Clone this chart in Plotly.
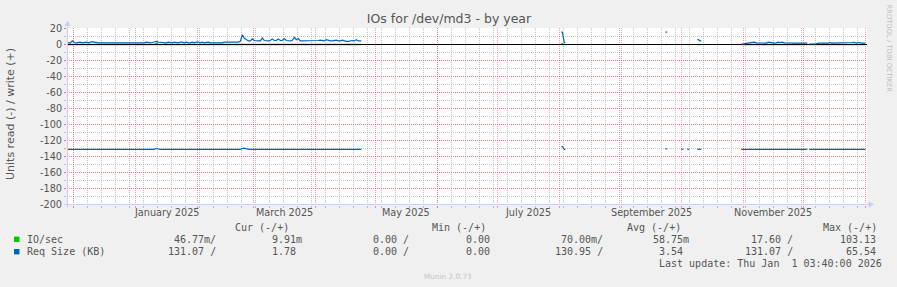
import plotly.graph_objects as go
import pandas as pd

# ---------------- data ----------------
title = "IOs for /dev/md3 - by year"
y_title = "Units read (-) / write (+)"
y_ticks = [20, 0, -20, -40, -60, -80, -100, -120, -140, -160, -180, -200]
month_lines = ["2024-12-01", "2025-01-01", "2025-02-01", "2025-03-01", "2025-04-01",
               "2025-05-01", "2025-06-01", "2025-07-01", "2025-08-01", "2025-09-01",
               "2025-10-01", "2025-11-01", "2025-12-01", "2026-01-01"]
label_months = ["2025-01-01", "2025-03-01", "2025-05-01", "2025-07-01", "2025-09-01", "2025-11-01"]
month_labels = ["January 2025", "March 2025", "May 2025", "July 2025", "September 2025", "November 2025"]

# start day of each contiguous run of daily samples
seg_start = ["2024-11-28", "2025-08-02", "2025-09-23", "2025-10-01", "2025-10-04",
             "2025-10-09", "2025-10-31", "2025-12-04"]

# Req Size (KB), write (plotted +)
req_write = [
    [2, 2, 4.5, 2.5, 2, 3, 3, 2, 3, 3,
     2, 3, 3.5, 3, 2, 2, 2, 2, 2, 2,
     2, 2, 2, 2, 2, 2, 2, 2, 2, 2,
     2, 2, 2, 2, 2, 2, 2, 2, 2, 3,
     2, 2, 2.5, 3, 4, 3, 3, 2.5, 2, 2,
     3, 2, 2, 3, 2, 2, 3, 3, 2, 3,
     2, 2, 3, 2, 3, 3, 2, 3, 2, 3,
     3, 2, 2, 2, 2, 2, 2, 2, 3, 3,
     3, 3, 3, 3, 3, 3, 4, 12,
     8, 6, 4.5, 4.5, 7, 5, 4.5, 4.5, 4.5, 8,
     5, 4.5, 4.5, 5, 7, 5, 5, 7, 5, 5,
     7.5, 5, 4.5, 4.5, 5, 9, 6, 7.5, 4.5, 4.5,
     4.5, 4.5, 4.5, 4.5, 4.5, 4.5, 4.5, 5, 5.5, 4.5,
     4.5, 6, 5, 4.5, 4.5, 5, 5.5, 4.5, 4.5, 5.5,
     4.5, 4, 4, 4.5, 5, 4.5, 6, 4.5, 4.5],
    [15.5, 2.5],
    [15.5],
    [None],
    [None],
    [6, 4.5],
    [0.3, 0.8, 1.3, 1.8, 1.8, 2.5, 3, 2, 1.8, 1.8,
     1.8, 2, 1.8, 3, 2.5, 1.8, 1.8, 2, 3, 2.5,
     3, 2, 1.8, 1.8, 1.8, 1.8, 1.8, 1.8, 1.8, 1.8,
     1.8, 1.8, 1.8],
    [0.6, 0.6, 0.6, 0.8, 1.6, 1.8, 1.8, 2.5, 1.8, 1.8,
     2.5, 1.8, 1.8, 2.5, 2.5, 1.8, 1.8, 2.2, 2.5, 1.8,
     1.8, 2.5, 2.8, 1.8, 2.5, 1.8, 1.8, 1.8],
]

# Req Size (KB), read (plotted -)
req_read = [
    [131, 131, 131, 131, 131, 131, 131, 131, 131, 131,
     131, 131, 131, 131, 131, 131, 131, 131, 131, 131,
     131, 131, 131, 131, 131, 131, 131, 131, 131, 131,
     131, 131, 131, 131, 131, 131, 131, 131, 131, 131,
     131, 131, 131, 131, 130, 131, 131, 131, 131, 131,
     131, 131, 131, 131, 131, 131, 131, 131, 131, 131,
     131, 131, 131, 131, 131, 131, 131, 131, 131, 131,
     131, 131, 131, 131, 131, 131, 131, 131, 131, 131,
     131, 131, 131, 131, 131, 131, 131, 130,
     129.5, 130.5, 131, 131, 131, 131, 131, 131, 131, 131,
     131, 131, 131, 131, 131, 131, 131, 131, 131, 131,
     131, 131, 131, 131, 131, 131, 131, 131, 131, 131,
     131, 131, 131, 131, 131, 131, 131, 131, 131, 131,
     131, 131, 131, 131, 131, 131, 131, 131, 131, 131,
     131, 131, 131, 131, 131, 131, 131, 131, 131],
    [127.5, 131],
    [130.5],
    [131],
    [131],
    [131, 131],
    [131, 131, 131, 131, 131, 131, 131, 131, 131, 131,
     131, 131, 131, 131, 131, 131, 131, 131, 131, 131,
     131, 131, 131, 131, 131, 131, 131, 131, 131, 131,
     131, 131, 131],
    [131, 131, 131, 131, 131, 131, 131, 131, 131, 131,
     131, 131, 131, 131, 131, 131, 131, 131, 131, 131,
     131, 131, 131, 131, 131, 131, 131, 131],
]

# IO/sec, write (plotted +)
io_write = [
    [0.06, 0.06, 0.06, 0.06, 0.06, 0.06, 0.06, 0.06, 0.06, 0.06,
     0.06, 0.06, 0.06, 0.06, 0.06, 0.06, 0.06, 0.06, 0.06, 0.06,
     0.06, 0.06, 0.06, 0.06, 0.06, 0.06, 0.06, 0.06, 0.06, 0.06,
     0.06, 0.06, 0.06, 0.06, 0.06, 0.06, 0.06, 0.06, 0.06, 0.06,
     0.06, 0.06, 0.06, 0.06, 1.8, 0.06, 0.06, 0.06, 0.06, 0.06,
     0.06, 0.06, 0.06, 0.06, 0.06, 0.06, 0.06, 0.06, 0.06, 0.06,
     0.06, 0.06, 0.06, 0.06, 0.06, 0.06, 0.06, 0.06, 0.06, 0.06,
     0.06, 0.06, 0.06, 0.06, 0.06, 0.06, 0.06, 0.06, 0.06, 0.06,
     0.06, 0.06, 0.06, 0.06, 0.06, 0.06, 0.06, 0.06,
     0.06, 0.06, 0.06, 0.06, 0.06, 0.06, 0.06, 0.06, 0.06, 0.06,
     0.06, 0.06, 0.06, 0.06, 0.06, 0.06, 0.06, 0.06, 0.06, 0.06,
     0.06, 0.06, 0.06, 0.06, 0.06, 0.06, 0.06, 0.06, 0.06, 0.06,
     0.06, 0.06, 0.06, 0.06, 0.06, 0.06, 0.06, 0.06, 0.06, 0.06,
     0.06, 0.06, 0.06, 0.06, 0.06, 0.06, 0.06, 0.06, 0.06, 0.06,
     0.06, 0.06, 0.06, 0.06, 0.06, 0.06, 0.06, 0.06, 0.06],
    [1.2, 0.06],
    [0.06],
    [None],
    [None],
    [0.06, 0.06],
    [0.06, 0.06, 0.06, 0.06, 0.06, 0.06, 0.06, 0.06, 0.06, 0.06,
     0.06, 0.06, 0.06, 0.06, 0.06, 0.06, 0.06, 0.06, 0.06, 0.06,
     0.06, 0.06, 0.06, 0.06, 0.06, 0.06, 0.06, 0.06, 0.06, 0.06,
     0.06, 0.06, 0.06],
    [0.06, 0.06, 0.06, 0.06, 0.06, 0.06, 0.06, 0.06, 0.06, 0.06,
     0.06, 0.06, 0.06, 0.06, 0.06, 0.06, 0.06, 0.06, 0.06, 0.06,
     0.06, 0.06, 0.06, 0.06, 0.06, 0.06, 0.06, 0.06],
]

# IO/sec, read (plotted -)
io_read = [
    [0.07, 0.07, 0.07, 0.07, 0.07, 0.07, 0.07, 0.07, 0.07, 0.07,
     0.07, 0.07, 0.07, 0.07, 0.07, 0.07, 0.07, 0.07, 0.07, 0.07,
     0.07, 0.07, 0.07, 0.07, 0.07, 0.07, 0.07, 0.07, 0.07, 0.07,
     0.07, 0.07, 0.07, 0.07, 0.07, 0.07, 0.07, 0.07, 0.07, 0.07,
     0.07, 0.07, 0.07, 0.07, 0.07, 0.07, 0.07, 0.07, 0.07, 0.07,
     0.07, 0.07, 0.07, 0.07, 0.07, 0.07, 0.07, 0.07, 0.07, 0.07,
     0.07, 0.07, 0.07, 0.07, 0.07, 0.07, 0.07, 0.07, 0.07, 0.07,
     0.07, 0.07, 0.07, 0.07, 0.07, 0.07, 0.07, 0.07, 0.07, 0.07,
     0.07, 0.07, 0.07, 0.07, 0.07, 0.07, 0.07, 0.07,
     0.07, 0.07, 0.07, 0.07, 0.07, 0.07, 0.07, 0.07, 0.07, 0.07,
     0.07, 0.07, 0.07, 0.07, 0.07, 0.07, 0.07, 0.07, 0.07, 0.07,
     0.07, 0.07, 0.07, 0.07, 0.07, 0.07, 0.07, 0.07, 0.07, 0.07,
     0.07, 0.07, 0.07, 0.07, 0.07, 0.07, 0.07, 0.07, 0.07, 0.07,
     0.07, 0.07, 0.07, 0.07, 0.07, 0.07, 0.07, 0.07, 0.07, 0.07,
     0.07, 0.07, 0.07, 0.07, 0.07, 0.07, 0.07, 0.07, 0.07],
    [0.07, 0.07],
    [0.07],
    [0.07],
    [0.07],
    [0.07, 0.07],
    [0.07, 0.07, 0.07, 0.07, 0.07, 0.07, 0.07, 0.07, 0.07, 0.07,
     0.07, 0.07, 0.07, 0.07, 0.07, 0.07, 0.07, 0.07, 0.07, 0.07,
     0.07, 0.07, 0.07, 0.07, 0.07, 0.07, 0.07, 0.07, 0.07, 0.07,
     0.07, 0.07, 0.07],
    [0.07, 0.07, 0.07, 0.07, 0.07, 0.07, 0.07, 0.07, 0.07, 0.07,
     0.07, 0.07, 0.07, 0.07, 0.07, 0.07, 0.07, 0.07, 0.07, 0.07,
     0.07, 0.07, 0.07, 0.07, 0.07, 0.07, 0.07, 0.07],
]

legend_names = ["IO/sec", "Req Size (KB)"]
legend_header = ["Cur (-/+)", "Min (-/+)", "Avg (-/+)", "Max (-/+)"]
io_stats = ["46.77m/", "9.91m", "0.00 /", "0.00", "70.00m/", "58.75m", "17.60 /", "103.13"]
req_stats = ["131.07 /", "1.78\u00a0", "0.00 /", "0.00", "130.95 /", "3.54\u00a0", "131.07 /", "65.54"]
last_update = "Last update: Thu Jan\u00a0\u00a01 03:40:00 2026"
footer = "Munin 2.0.73"
watermark = "RRDTOOL / TOBI OETIKER"

# ---------------- styling / layout ----------------
GREEN = "#00CC00"
BLUE = "#0066B3"
GRID = "rgba(143,143,143,0.55)"
MGRID = "rgba(222,79,79,0.55)"
AXIS = "#C9CFF4"
TXT = "#555555"
DOT = "1px,1px"

W_PX, H_PX = 897, 287
L, R, T, B = 67, 867, 28, 205
PW, PH = R - L, B - T
Y_RANGE = [-200.625, 20.625]   # half-pixel padding so rules land on pixel centres

x_start = pd.Timestamp("2024-12-01") - pd.Timedelta(days=3.15)
x_end = x_start + pd.Timedelta(days=400)
HALF = pd.Timedelta(hours=12)
DAY = pd.Timedelta(days=1)


def build(series, sign):
    """Each daily sample is drawn at the middle of its day; runs are held flat to their edges."""
    xs, ys = [], []
    for start, vals in zip(seg_start, series):
        t0 = pd.Timestamp(start)
        seg = [None if v is None else sign * v for v in vals]
        xs.append(t0)
        ys.append(seg[0])
        for i, v in enumerate(seg):
            xs.append(t0 + i * DAY + HALF)
            ys.append(v)
        xs.append(t0 + len(seg) * DAY)
        ys.append(seg[-1])
        xs.append(t0 + len(seg) * DAY)
        ys.append(None)
    return xs, ys


fig = go.Figure()
for series, sign, color in [(io_read, -1, GREEN), (io_write, 1, GREEN)]:
    xs, ys = build(series, sign)
    fig.add_trace(go.Scatter(x=xs, y=ys, mode="lines", line=dict(color=color, width=1.2),
                             hoverinfo="skip"))
# zero rule
fig.add_trace(go.Scatter(x=[x_start, x_end], y=[0, 0], mode="lines",
                         line=dict(color="#000000", width=1.2), hoverinfo="skip"))
for series, sign, color in [(req_read, -1, BLUE), (req_write, 1, BLUE)]:
    xs, ys = build(series, sign)
    fig.add_trace(go.Scatter(x=xs, y=ys, mode="lines", line=dict(color=color, width=1.2),
                             hoverinfo="skip"))


def px(x):
    return (x - L) / PW


def py(y):
    return (B - y) / PH


def ann(text, x, y, anchor="left", size=10, family="DejaVu Sans Mono", color=TXT, angle=0):
    fig.add_annotation(text=text, x=px(x), y=py(y), xref="paper", yref="paper",
                       xanchor=anchor, yanchor="middle", showarrow=False, borderpad=0,
                       textangle=angle, font=dict(family=family, size=size, color=color))


# month labels (centred on mid-month)
for m, lab in zip(label_months, month_labels):
    s = pd.Timestamp(m)
    e = s + pd.offsets.MonthBegin(1)
    mid = s + (e - s) / 2
    fig.add_annotation(text=lab, x=mid, y=py(212), xref="x", yref="paper", xanchor="center",
                       yanchor="middle", showarrow=False, borderpad=0,
                       font=dict(family="DejaVu Sans", size=9.7, color=TXT))

# y title, watermark, footer
ann(y_title, 10.5, 114.5, anchor="center", size=11, family="DejaVu Sans", angle=-90)
ann(watermark, 889, 48.5, anchor="center", size=6.8, family="DejaVu Sans", color="#BBBBBB", angle=90)
ann(footer, 448, 276, anchor="center", size=7.3, family="DejaVu Sans", color="#C4C4C4")

# legend
header_left = [234, 431, 626.5, 822]
for h, x in zip(legend_header, header_left):
    ann(h, x - 0.5, 227.5)
row_y = [239.3, 251.7]
stat_right = [217, 303, 409.5, 491, 603.5, 689.5, 793.5, 876.5]
for name, stats, y, color in [(legend_names[0], io_stats, row_y[0], GREEN),
                              (legend_names[1], req_stats, row_y[1], BLUE)]:
    fig.add_shape(type="rect", xref="paper", yref="paper", x0=px(14), x1=px(19.5),
                  y0=py(y - 2.7), y1=py(y + 2.7), fillcolor=color, line=dict(width=0))
    ann(name, 25.5, y)
    for s, xr in zip(stats, stat_right):
        ann(s, xr, y, anchor="right")
ann(last_update, 883, 263.7, anchor="right")

# axes lines and arrows
fig.add_shape(type="line", xref="paper", yref="paper", x0=px(67.5), x1=px(67.5), y0=py(207.5), y1=py(24),
              line=dict(color=AXIS, width=1), layer="above")
fig.add_shape(type="line", xref="paper", yref="paper", x0=px(64), x1=px(869), y0=py(204.5), y1=py(204.5),
              line=dict(color=AXIS, width=1), layer="above")
fig.add_shape(type="path", xref="paper", yref="paper",
              path=f"M {px(67.5)},{py(20.5)} L {px(64.5)},{py(26)} L {px(70.5)},{py(26)} Z",
              fillcolor=AXIS, line=dict(width=0), layer="above")
fig.add_shape(type="path", xref="paper", yref="paper",
              path=f"M {px(874)},{py(204.5)} L {px(868.5)},{py(201.5)} L {px(868.5)},{py(207.5)} Z",
              fillcolor=AXIS, line=dict(width=0), layer="above")

fig.update_layout(
    width=W_PX, height=H_PX, autosize=False,
    margin=dict(l=L, r=W_PX - R, t=T, b=H_PX - B, pad=0),
    paper_bgcolor="#F0F0F0", plot_bgcolor="#FFFFFF", showlegend=False,
    font=dict(family="DejaVu Sans", size=9.7, color=TXT),
    title=dict(text=title, x=449 / W_PX, xanchor="center", y=1 - 19 / H_PX, yanchor="middle",
               font=dict(family="DejaVu Sans", size=12.5, color=TXT)),
    xaxis=dict(type="date", range=[x_start, x_end], tickmode="array", tickvals=month_lines,
               ticktext=[""] * len(month_lines), showgrid=True, gridcolor=MGRID, griddash=DOT,
               gridwidth=1, ticks="outside", ticklen=2, tickcolor=MGRID, zeroline=False,
               showline=False, fixedrange=True,
               minor=dict(tickmode="linear", tick0="2024-12-01", dtick=7 * 86400000, showgrid=True,
                          gridcolor=GRID, griddash=DOT, gridwidth=1, ticks="outside", ticklen=2,
                          tickcolor=GRID)),
    yaxis=dict(range=Y_RANGE, tickmode="array", tickvals=y_ticks,
               ticktext=[str(v) for v in y_ticks], showgrid=True, gridcolor=MGRID, griddash=DOT,
               gridwidth=1, ticks="outside", ticklen=2, tickcolor=MGRID, zeroline=False,
               showline=False, fixedrange=True, tickfont=dict(family="DejaVu Sans", size=9.7, color=TXT),
               minor=dict(tickmode="linear", tick0=0, dtick=10, showgrid=True, gridcolor=GRID,
                          griddash=DOT, gridwidth=1, ticks="outside", ticklen=2, tickcolor=GRID)),
)

fig.write_html("out.html")
